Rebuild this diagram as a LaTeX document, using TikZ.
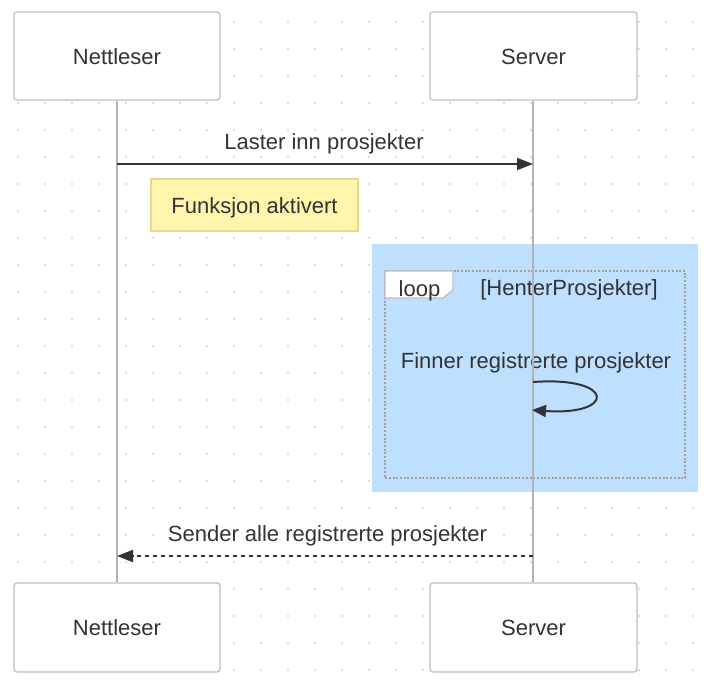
\documentclass[tikz,border=0pt]{standalone}
\usepackage{fontspec}
\setmainfont{Liberation Sans}
\usetikzlibrary{arrows.meta}
\definecolor{txt}{HTML}{333333}
\definecolor{actorborder}{HTML}{BDBDBD}
\definecolor{lifeline}{HTML}{B3B3B3}
\definecolor{griddot}{HTML}{DCDCDC}
\definecolor{loopbg}{RGB}{191,223,255}
\definecolor{notebg}{HTML}{FFF5AD}
\definecolor{noteborder}{HTML}{E3D88C}
\definecolor{framegray}{HTML}{A0A0A0}
\tikzset{
  every node/.style={font=\fontsize{22}{26}\selectfont, text=txt},
  actorbox/.style={draw=actorborder, fill=white, line width=1.3pt, rounded corners=3pt,
    minimum width=206pt, minimum height=88pt, inner sep=0pt, text height=16pt, text depth=0pt},
  notebox/.style={draw=noteborder, fill=notebg, line width=1.2pt,
    minimum width=207pt, minimum height=52pt, inner sep=0pt, text height=16pt, text depth=0pt},
  lifelinestyle/.style={draw=lifeline, line width=2pt},
  msg/.style={draw=txt, line width=2pt, -{Triangle[length=16pt,width=12pt]}},
  msgdashed/.style={msg, dash pattern=on 4pt off 4pt},
  lbl/.style={anchor=base, inner sep=0pt},
}
\begin{document}
\begin{tikzpicture}[x=1pt,y=-1pt]
\useasboundingbox (0,0) rectangle (707,689);
% background dot grid
\foreach \i in {0,...,25} {
  \foreach \j in {0,...,24} {
    \fill[griddot] ({18+27*\i-1},{22+27*\j-1}) rectangle ++(2,2);
  }
}
% loop background
\fill[loopbg] (372,244) rectangle (698,492);
% loop frame
\draw[framegray, line width=2pt, dash pattern=on 2pt off 1.7pt] (385,271) rectangle (685,478);
\draw[actorborder, fill=white, line width=1.3pt] (385,271) -- (453,271) -- (453,290) -- (443,298) -- (385,298) -- cycle;
\node[lbl] (looplbl) at (419.5,296) {loop};
\node[lbl] (loopcond) at (569,295) {[HenterProsjekter]};
\node[lbl] (selflbl) at (536,368) {Finner registrerte prosjekter};
% actors
\node[actorbox] (nettTop) at (117,56) {Nettleser};
\node[actorbox, minimum width=207pt] (servTop) at (533.5,56) {Server};
\node[actorbox, minimum height=89pt] (nettBot) at (117,627.5) {Nettleser};
\node[actorbox, minimum width=207pt, minimum height=89pt] (servBot) at (533.5,627.5) {Server};
% lifelines
\draw[lifelinestyle] (nettTop.south -| 117,0) -- (nettBot.north -| 117,0);
\draw[lifelinestyle] (servTop.south -| 533,0) -- (servBot.north -| 533,0);
% message 1
\coordinate (m1a) at (117,164);
\coordinate (m1b) at (533,164);
\node[lbl] (m1lbl) at (324,149) {Laster inn prosjekter};
\draw[msg] (m1a) -- (m1b);
% note
\node[notebox] (note) at (254.5,205) {Funksjon aktivert};
% self message
\coordinate (s1a) at (533,382);
\coordinate (s1b) at (532,410);
\draw[draw=txt, line width=2pt, -{Triangle[length=14pt,width=12pt]}] (s1a) .. controls (616,376) and (616,416) .. (s1b);
% message 2
\coordinate (m2a) at (533,556);
\coordinate (m2b) at (117,556);
\node[lbl] (m2lbl) at (327.5,541) {Sender alle registrerte prosjekter};
\draw[msgdashed] (m2a) -- (m2b);
\end{tikzpicture}
\end{document}
